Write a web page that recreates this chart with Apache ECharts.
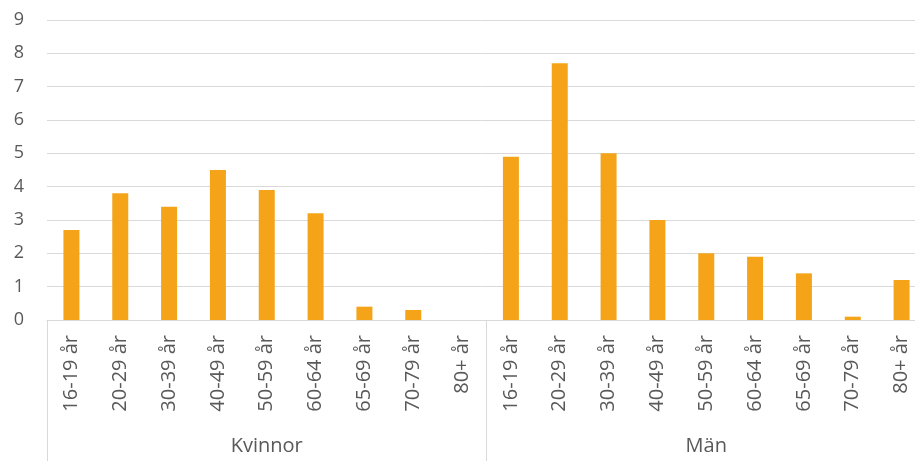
<!DOCTYPE html>
<html>
<head>
<meta charset="utf-8">
<script src="https://cdn.jsdelivr.net/npm/echarts@6/dist/echarts.min.js"></script>
<style>
  html, body { margin: 0; padding: 0; background: #fff; }
  #chart { width: 915px; height: 461px; }
</style>
</head>
<body>
<div id="chart"></div>
<script>
const ageGroups = ['16-19 år', '20-29 år', '30-39 år', '40-49 år', '50-59 år', '60-64 år', '65-69 år', '70-79 år', '80+ år'];
const genders = ['Kvinnor', 'Män'];
const kvinnor = [2.7, 3.8, 3.4, 4.5, 3.9, 3.2, 0.4, 0.3, 0];
const man = [4.9, 7.7, 5.0, 3.0, 2.0, 1.9, 1.4, 0.1, 1.2];

const categories = genders.flatMap(g => ageGroups.map(a => g + '|' + a));
const values = kvinnor.concat(man);

const chart = echarts.init(document.getElementById('chart'));
const font = '"Open Sans", sans-serif';

chart.setOption({
  animation: false,
  grid: { left: 47, right: -11, top: 20, bottom: 141, outerBoundsMode: 'none', containLabel: false },
  xAxis: [
    {
      type: 'category',
      data: categories,
      axisLine: { lineStyle: { color: '#d9d9d9', width: 1 } },
      axisTick: { show: false },
      axisLabel: {
        interval: 0,
        rotate: 90,
        margin: 15,
        fontSize: 20,
        color: '#595959',
        fontFamily: font,
        formatter: v => v.split('|')[1]
      }
    },
    {
      type: 'category',
      data: genders,
      position: 'bottom',
      axisLine: { show: false },
      axisTick: { show: true, length: 141, lineStyle: { color: '#d9d9d9', width: 1 } },
      axisLabel: { margin: 116, fontSize: 20, color: '#595959', fontFamily: font }
    }
  ],
  yAxis: {
    type: 'value',
    min: 0,
    max: 9,
    interval: 1,
    axisLine: { show: false },
    axisTick: { show: false },
    axisLabel: { margin: 23, fontSize: 18, color: '#595959', fontFamily: font },
    splitLine: { lineStyle: { color: '#d9d9d9', width: 1 } }
  },
  series: [
    {
      type: 'bar',
      data: values,
      barWidth: 16,
      itemStyle: { color: '#F5A41A' }
    }
  ]
});
</script>
</body>
</html>
